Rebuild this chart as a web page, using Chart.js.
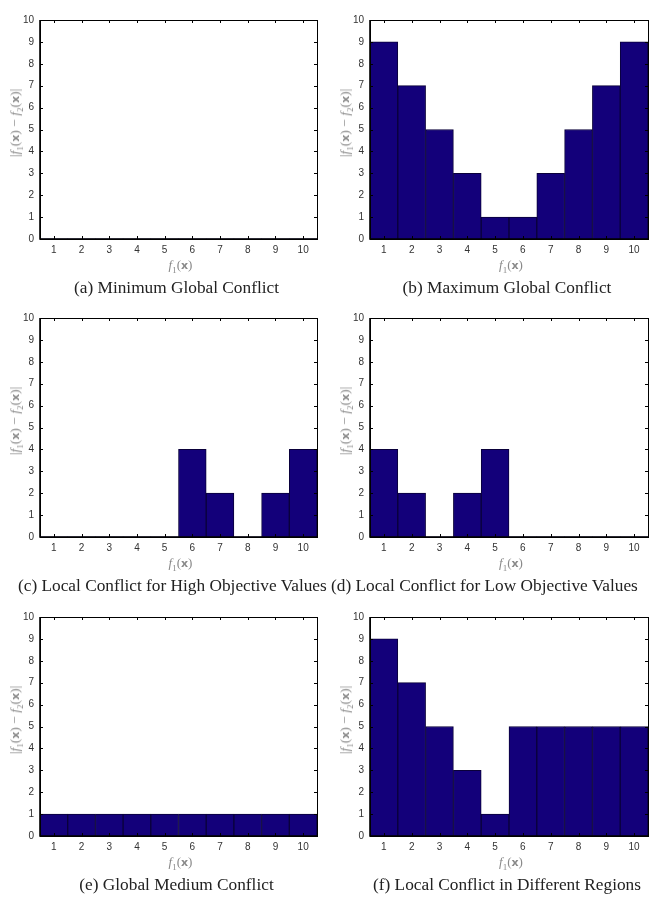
<!DOCTYPE html>
<html>
<head>
<meta charset="utf-8">
<script src="https://cdn.jsdelivr.net/npm/chart.js@4/dist/chart.umd.min.js"></script>
<style>
  html, body { margin:0; padding:0; background:#fff; width:653px; height:900px; overflow:hidden; }
  .panel { position:absolute; }
  .ytitle { position:absolute; transform-origin:center center; transform:translate(-50%,-50%) rotate(-90deg);
            font-family:"Liberation Serif","DejaVu Serif",serif; font-size:13.5px; color:#8a8a8a; white-space:nowrap; line-height:13px; }
  .xtitle { position:absolute; transform:translate(-50%,-50%); font-family:"Liberation Serif","DejaVu Serif",serif;
            font-size:13px; color:#8a8a8a; white-space:nowrap; line-height:13px; }
  .caption { position:absolute; transform:translate(-50%,-50%); font-family:"Liberation Serif","DejaVu Serif",serif;
             font-size:17.3px; color:#222; white-space:nowrap; }
  .caption.left { transform:translate(0,-50%); }
  .bx { font-family:"DejaVu Sans","Liberation Sans",sans-serif; font-weight:bold; font-size:11px; }
  sub { font-size:9px; line-height:0; }
</style>
</head>
<body>
<script>
// ---- data ----
const categories = ['1','2','3','4','5','6','7','8','9','10'];
const minGlobal    = [0,0,0,0,0,0,0,0,0,0];
const maxGlobal    = [9,7,5,3,1,1,3,5,7,9];
const localHigh    = [0,0,0,0,0,4,2,0,2,4];
const localLow     = [4,2,0,2,4,0,0,0,0,0];
const globalMedium = [1,1,1,1,1,1,1,1,1,1];
const localRegions = [9,7,5,3,1,5,5,5,5,5];
const yTickValues  = [0,1,2,3,4,5,6,7,8,9,10];
const captions = [
  '(a) Minimum Global Conflict',
  '(b) Maximum Global Conflict',
  '(c) Local Conflict for High Objective Values',
  '(d) Local Conflict for Low Objective Values',
  '(e) Global Medium Conflict',
  '(f) Local Conflict in Different Regions'
];
const seriesList = [minGlobal, maxGlobal, localHigh, localLow, globalMedium, localRegions];

// ---- layout ----
const colLeft = [0, 330];
const colWidth = [326, 323];
const colPadRight = [9, 5];
const rowTop = [0, 298, 597];
const canvasH = 260;
const captionLeftAnchor = [null, null, 18, 331, null, null];

const boxTicks = {
  id: 'boxTicks',
  afterDraw(chart) {
    const {ctx, chartArea: a, scales} = chart;
    const tl = 3;
    ctx.save();
    ctx.strokeStyle = '#000';
    ctx.lineWidth = 1;
    ctx.beginPath();
    scales.x.ticks.forEach((t, i) => {
      const px = Math.round(scales.x.getPixelForTick(i)) + 0.5;
      ctx.moveTo(px, a.bottom); ctx.lineTo(px, a.bottom - tl);
      ctx.moveTo(px, a.top); ctx.lineTo(px, a.top + tl);
    });
    scales.y.ticks.forEach((t, i) => {
      const py = Math.round(scales.y.getPixelForTick(i)) + 0.5;
      ctx.moveTo(a.left, py); ctx.lineTo(a.left + tl, py);
      ctx.moveTo(a.right, py); ctx.lineTo(a.right - tl, py);
    });
    ctx.stroke();
    ctx.lineWidth = 1;
    ctx.strokeRect(Math.round(a.left) + 0.5, Math.round(a.top) + 0.5,
                   Math.round(a.right - a.left), Math.round(a.bottom - a.top));
    ctx.lineWidth = 1.6;
    ctx.beginPath();
    ctx.moveTo(a.left, a.top); ctx.lineTo(a.left, a.bottom); ctx.lineTo(a.right, a.bottom);
    ctx.stroke();
    ctx.restore();
  }
};

function addHTML(cls, html, x, y) {
  const d = document.createElement('div');
  d.className = cls;
  d.innerHTML = html;
  d.style.left = x + 'px';
  d.style.top = y + 'px';
  document.body.appendChild(d);
}

const yTitleHTML = '|<i>f</i><sub>1</sub>(<span class="bx">x</span>) &minus; <i>f</i><sub>2</sub>(<span class="bx">x</span>)|';
const xTitleHTML = '<i>f</i><sub>1</sub>(<span class="bx">x</span>)';

seriesList.forEach((vals, idx) => {
  const col = idx % 2, row = Math.floor(idx / 2);
  const wrap = document.createElement('div');
  wrap.className = 'panel';
  wrap.style.left = colLeft[col] + 'px';
  wrap.style.top = rowTop[row] + 'px';
  wrap.style.width = colWidth[col] + 'px';
  wrap.style.height = canvasH + 'px';
  const cv = document.createElement('canvas');
  wrap.appendChild(cv);
  document.body.appendChild(wrap);

  new Chart(cv, {
    type: 'bar',
    data: {
      labels: categories,
      datasets: [{
        data: vals,
        backgroundColor: '#13007a',
        borderColor: '#0a003a',
        borderWidth: c => (c.raw === 0 ? 0 : 1),
        barPercentage: 1.0,
        categoryPercentage: 1.0
      }]
    },
    options: {
      responsive: true,
      maintainAspectRatio: false,
      animation: false,
      layout: { padding: { top: 20, right: colPadRight[col], left: 0, bottom: 0 } },
      plugins: { legend: { display: false }, tooltip: { enabled: false } },
      scales: {
        x: {
          offset: true,
          grid: { display: false, drawTicks: false },
          border: { display: false },
          ticks: { color: '#333', font: { family: 'Liberation Sans, Arial, sans-serif', size: 10 }, padding: 5, maxRotation: 0 },
          afterFit(s) { s.height = 21; }
        },
        y: {
          min: 0, max: 10,
          afterBuildTicks(s) { s.ticks = yTickValues.map(v => ({ value: v })); },
          grid: { display: false, drawTicks: false },
          border: { display: false },
          ticks: { color: '#333', font: { family: 'Liberation Sans, Arial, sans-serif', size: 10 }, padding: 6 },
          afterFit(s) { s.width = 40; }
        }
      }
    },
    plugins: [boxTicks]
  });

  const left = colLeft[col] + 40;
  const right = colLeft[col] + colWidth[col] - colPadRight[col];
  const cx = (left + right) / 2;
  addHTML('ytitle', yTitleHTML, colLeft[col] + 15, rowTop[row] + 123);
  addHTML('xtitle', xTitleHTML, cx + 2, rowTop[row] + 265);
  if (captionLeftAnchor[idx] !== null) {
    addHTML('caption left', captions[idx], captionLeftAnchor[idx], rowTop[row] + 288);
  } else {
    addHTML('caption', captions[idx], cx - 2, rowTop[row] + 288);
  }
});
</script>
</body>
</html>
